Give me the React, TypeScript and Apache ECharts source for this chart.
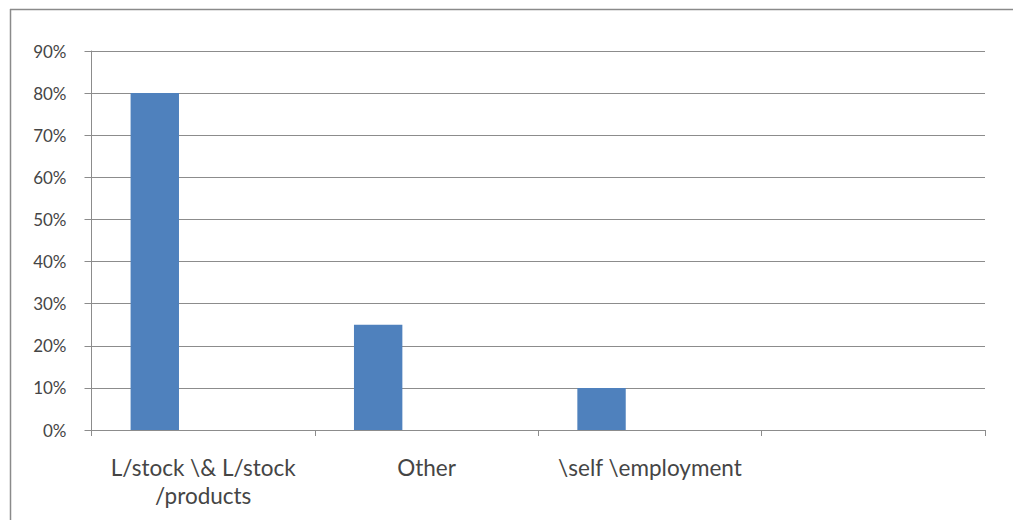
import React, { useEffect, useRef } from "react";
import * as echarts from "echarts";

const categories = ["L/stock \\& L/stock\n/products", "Other", "\\self \\employment", ""];
const series1 = [80, 25, 10, null];
const series2 = [null, null, null, null];
const series3 = [null, null, null, null];
const yMin = 0;
const yMax = 90;
const yInterval = 10;

export default function App() {
  const ref = useRef<HTMLDivElement>(null);
  useEffect(() => {
    if (!ref.current) return;
    const chart = echarts.init(ref.current, null, { renderer: "svg" });
    const font = "Lato, 'Open Sans', sans-serif";
    chart.setOption({
      animation: false,
      backgroundColor: "#ffffff",
      grid: { left: 91.5, right: 28, top: 51, bottom: 90, containLabel: false },
      graphic: [
        { type: "line", shape: { x1: 10, y1: 9.5, x2: 1013, y2: 9.5 }, style: { stroke: "#8a8a8a", lineWidth: 1.5 } },
        { type: "line", shape: { x1: 10.5, y1: 9, x2: 10.5, y2: 520 }, style: { stroke: "#8a8a8a", lineWidth: 1.5 } },
      ],
      xAxis: {
        type: "category",
        data: categories,
        axisLine: { show: true, lineStyle: { color: "#8c8c8c", width: 1 } },
        axisTick: { show: true, length: 6, alignWithLabel: false, lineStyle: { color: "#8c8c8c" } },
        axisLabel: {
          color: "#454545",
          fontSize: 22.5,
          fontFamily: font,
          margin: 23,
          lineHeight: 28,
          interval: 0,
        },
        splitLine: { show: false },
      },
      yAxis: {
        type: "value",
        min: yMin,
        max: yMax,
        interval: yInterval,
        axisLine: { show: true, lineStyle: { color: "#8c8c8c", width: 1 } },
        axisTick: { show: true, length: 7, lineStyle: { color: "#8c8c8c" } },
        axisLabel: {
          formatter: "{value}%",
          color: "#454545",
          fontSize: 17,
          fontFamily: font,
          margin: 25,
        },
        splitLine: { show: true, lineStyle: { color: "#8c8c8c", width: 1 } },
      },
      series: [
        { type: "bar", data: series1, itemStyle: { color: "#4f81bd" }, barGap: "0%", barCategoryGap: "35%" },
        { type: "bar", data: series2, itemStyle: { color: "#c0504d" }, barGap: "0%", barCategoryGap: "35%" },
        { type: "bar", data: series3, itemStyle: { color: "#9bbb59" }, barGap: "0%", barCategoryGap: "35%" },
      ],
    });
    return () => chart.dispose();
  }, []);
  return (
    <div
      ref={ref}
      style={{ position: "fixed", left: 0, top: 0, width: 1013, height: 520, background: "#fff" }}
    />
  );
}
